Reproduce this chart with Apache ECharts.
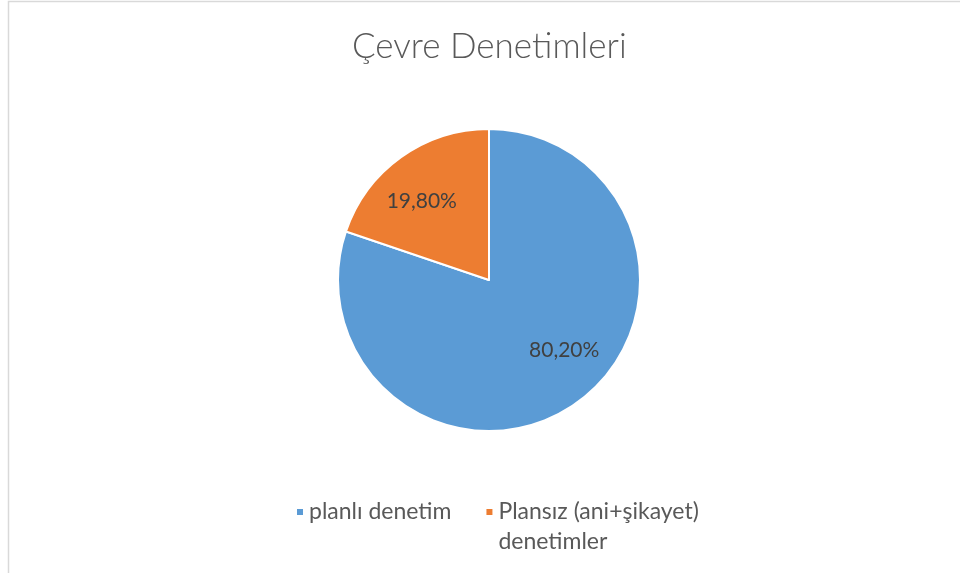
<!DOCTYPE html>
<html>
<head>
<meta charset="utf-8">
<style>
  html, body { margin: 0; padding: 0; background: #ffffff; }
  #chart { width: 960px; height: 573px; }
</style>
<script src="https://cdn.jsdelivr.net/npm/echarts@6/dist/echarts.min.js"></script>
</head>
<body>
<div id="chart"></div>
<script>
// Inspection types and their shares (percent)
const categories = ['planlı denetim', 'Plansız (ani+şikayet) denetimler'];
const shares = [80.2, 19.8];
const colors = ['#5B9BD5', '#ED7D31'];
const titleText = 'Çevre Denetimleri';

const FONT = 'Lato, "Open Sans", sans-serif';
const chart = echarts.init(document.getElementById('chart'), null, { renderer: 'canvas' });

const pieCenter = [489, 280];
const pieRadius = 151;
// small nudges so the percentage labels sit where a best-fit placement puts them
const labelNudge = [[13, -17], [-5, 8]];

chart.setOption({
  backgroundColor: '#ffffff',
  animation: false,
  title: {
    text: titleText,
    left: 347,
    top: 24,
    textStyle: { fontFamily: FONT, fontSize: 35, fontWeight: 300, color: '#595959' }
  },
  legend: {
    orient: 'horizontal',
    left: 290,
    top: 462,
    itemWidth: 8,
    itemHeight: 8,
    itemGap: 33,
    icon: 'rect',
    textStyle: { fontFamily: FONT, fontSize: 23, color: '#595959', lineHeight: 30 },
    // the long name wraps onto a second line; a leading blank line keeps
    // the first line level with its colour square
    formatter: function (name) {
      return name === categories[1] ? '\nPlansız (ani+şikayet)\ndenetimler' : name;
    },
    data: categories
  },
  graphic: [{
    type: 'rect',
    silent: true,
    shape: { x: 8.5, y: 1.5, width: 1000, height: 620 },
    style: { fill: 'none', stroke: '#D9D9D9', lineWidth: 1.5 }
  }],
  series: [{
    type: 'pie',
    center: pieCenter,
    radius: pieRadius,
    startAngle: 90,
    clockwise: true,
    data: categories.map((c, i) => ({ name: c, value: shares[i], itemStyle: { color: colors[i] } })),
    itemStyle: { borderColor: '#ffffff', borderWidth: 2 },
    label: {
      show: true,
      position: 'inside',
      fontFamily: FONT,
      fontSize: 21,
      color: '#404040',
      formatter: p => p.value.toFixed(2).replace('.', ',') + '%'
    },
    labelLayout: function (p) {
      // push labels outward from half radius toward two thirds of the radius
      const lx = p.labelRect.x + p.labelRect.width / 2;
      const ly = p.labelRect.y + p.labelRect.height / 2;
      const k = 0.36;
      const n = labelNudge[p.dataIndex];
      return { dx: (lx - pieCenter[0]) * k + n[0], dy: (ly - pieCenter[1]) * k + n[1] };
    },
    labelLine: { show: false },
    emphasis: { disabled: true }
  }]
});
</script>
</body>
</html>
